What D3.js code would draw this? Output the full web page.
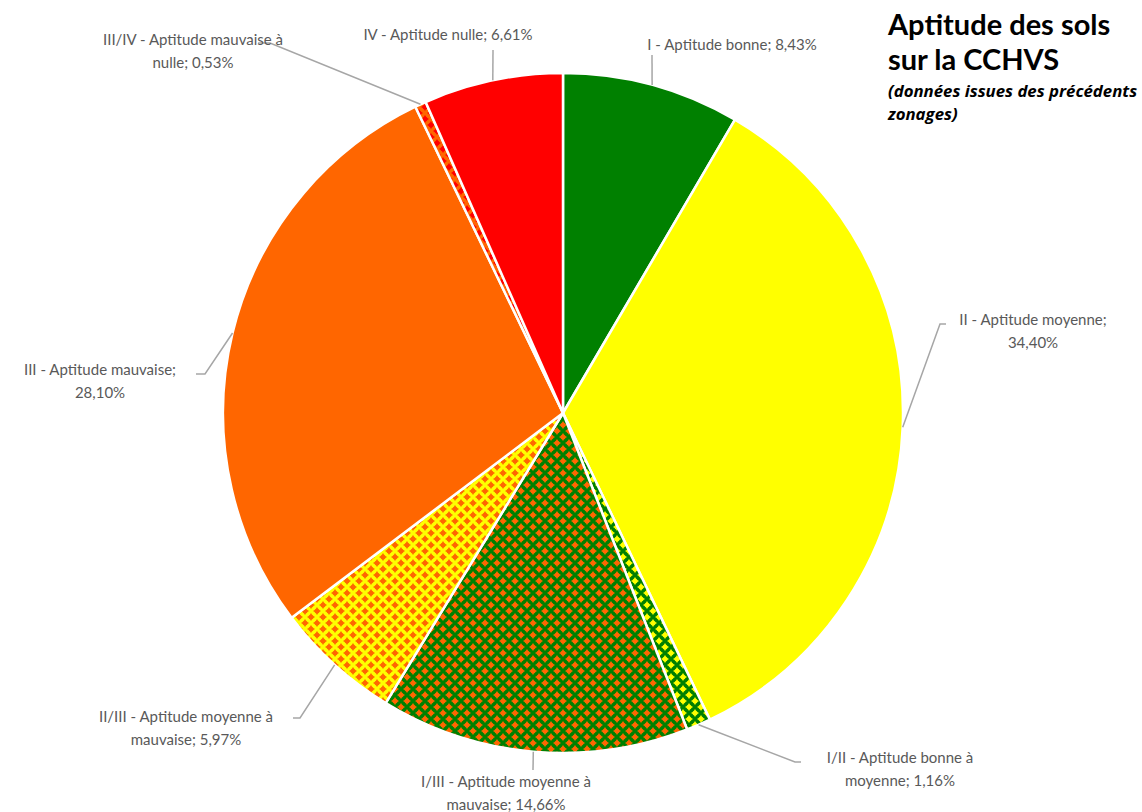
<!DOCTYPE html>
<html><head><meta charset="utf-8">
<script src="https://cdn.jsdelivr.net/npm/d3@7"></script>
<style>body{margin:0;background:#fff}svg{display:block}</style>
</head><body><svg id="c" width="1142" height="812"></svg>
<script>
const categories = ["I - Aptitude bonne","II - Aptitude moyenne","I/II - Aptitude bonne à moyenne","I/III - Aptitude moyenne à mauvaise","II/III - Aptitude moyenne à mauvaise","III - Aptitude mauvaise","III/IV - Aptitude mauvaise à nulle","IV - Aptitude nulle"];
const values = [8.43, 34.40, 1.16, 14.66, 5.97, 28.10, 0.53, 6.61];
const labelLines = [
  ["I - Aptitude bonne; 8,43%"],
  ["II - Aptitude moyenne;","34,40%"],
  ["I/II - Aptitude bonne à","moyenne; 1,16%"],
  ["I/III - Aptitude moyenne à","mauvaise; 14,66%"],
  ["II/III - Aptitude moyenne à","mauvaise; 5,97%"],
  ["III - Aptitude mauvaise;","28,10%"],
  ["III/IV - Aptitude mauvaise à","nulle; 0,53%"],
  ["IV - Aptitude nulle; 6,61%"]
];
// fill: [background, pattern dots or null]
const fills = [["#008000",null],["#ffff00",null],["#008000","#ffff00"],["#008000","#ff6600"],["#ffff00","#ff6600"],["#ff6600",null],["#ff6600","#ff0000"],["#ff0000",null]];
// label layout: text center x, first baseline y, leader end (elbow) points
const labelPos = [
  {x:732,y:50,pts:[[652,55]]},
  {x:1033,y:325,pts:[[940,324],[946,324]]},
  {x:900,y:763,pts:[[795,762],[801,762]]},
  {x:506,y:787,pts:[[533,770]]},
  {x:186,y:722,pts:[[300,718],[293,718]]},
  {x:100,y:375,pts:[[205,374],[196,374]]},
  {x:193,y:45,pts:[[270,43],[258,43]]},
  {x:448,y:40,pts:[[493,50]]}
];

const svg = d3.select("#c");
const cx = 563, cy = 413, R = 340;
const defs = svg.append("defs");
fills.forEach((f,i)=>{
  if(!f[1]) return;
  const S = 12;
  const p = defs.append("pattern").attr("id","p"+i).attr("patternUnits","userSpaceOnUse")
    .attr("width",S).attr("height",S);
  p.append("rect").attr("width",S).attr("height",S).attr("fill",f[0]);
  [[0,0],[S,0],[0,S],[S,S],[S/2,S/2]].forEach(([x,y])=>{
    p.append("circle").attr("cx",x).attr("cy",y).attr("r",2.5).attr("fill",f[1]);
    p.append("rect").attr("x",x-0.8).attr("y",y-3.4).attr("width",1.6).attr("height",6.8).attr("fill",f[1]);
    p.append("rect").attr("x",x-3.4).attr("y",y-0.8).attr("width",6.8).attr("height",1.6).attr("fill",f[1]);
  });
});

const pie = d3.pie().sort(null).value(d=>d);
const arcs = pie(values);
const arc = d3.arc().innerRadius(0).outerRadius(R);
const g = svg.append("g").attr("transform",`translate(${cx},${cy})`);
g.selectAll("path").data(arcs).join("path")
  .attr("d",arc)
  .attr("fill",(d,i)=>fills[i][1]?`url(#p${i})`:fills[i][0])
  .attr("stroke","#fff").attr("stroke-width",2.5).attr("stroke-linejoin","round");

// leader lines
arcs.forEach((d,i)=>{
  const a = (d.startAngle+d.endAngle)/2;
  const start = [cx+Math.sin(a)*R, cy-Math.cos(a)*R];
  const pts = [start].concat(labelPos[i].pts);
  svg.append("path").attr("d",d3.line()(pts)).attr("fill","none")
    .attr("stroke","#a6a6a6").attr("stroke-width",1.5);
});

// labels
labelLines.forEach((lines,i)=>{
  const t = svg.append("text").attr("text-anchor","middle")
    .attr("font-family","Lato, 'Open Sans', sans-serif").attr("font-size",15).attr("fill","#595959");
  lines.forEach((l,j)=>t.append("tspan").attr("x",labelPos[i].x).attr("y",labelPos[i].y+j*23).text(l));
});

// title
const title = svg.append("text").attr("fill","#000");
title.append("tspan").attr("x",888).attr("y",35).attr("font-family","Lato, sans-serif").attr("font-weight","bold").attr("font-size",29).text("Aptitude des sols");
title.append("tspan").attr("x",888).attr("y",70).attr("font-family","Lato, sans-serif").attr("font-weight","bold").attr("font-size",29).text("sur la CCHVS");
title.append("tspan").attr("x",888).attr("y",97).attr("font-family","'Open Sans', sans-serif").attr("font-weight","bold").attr("font-style","italic").attr("font-size",16.8).text("(données issues des précédents");
title.append("tspan").attr("x",888).attr("y",120).attr("font-family","'Open Sans', sans-serif").attr("font-weight","bold").attr("font-style","italic").attr("font-size",16.8).text("zonages)");
</script></body></html>
